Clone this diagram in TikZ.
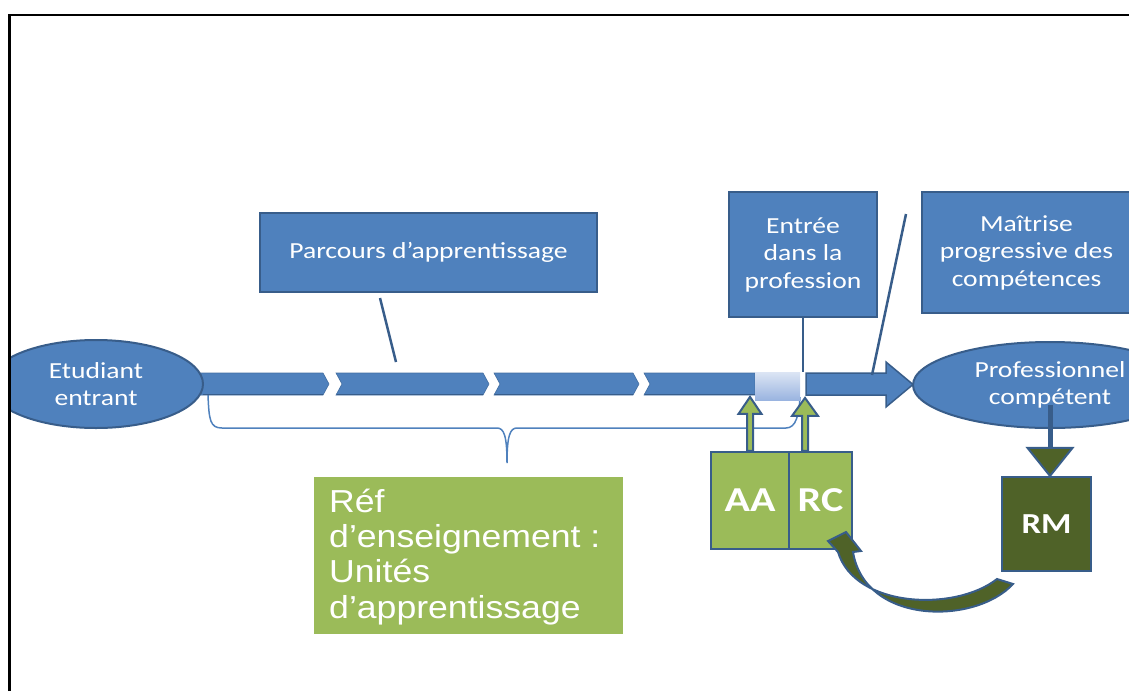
\documentclass[tikz,border=0pt]{standalone}
\usepackage{fontspec}
\setmainfont{Carlito}
\newfontfamily\calib[FakeStretch=1.2]{Carlito}
\newfontfamily\arialx[FakeStretch=1.12]{Liberation Sans}
\usetikzlibrary{shapes.geometric,calc}

\definecolor{ublue}{HTML}{4F81BD}
\definecolor{uedge}{HTML}{385D8A}
\definecolor{ugreen}{HTML}{9BBB59}
\definecolor{uolive}{HTML}{4F6228}
\definecolor{glowtop}{HTML}{DCE5F4}
\definecolor{glowbot}{HTML}{9AB4E0}

\newcommand\bluetext{\calib\fontsize{23}{27.5}\selectfont}

\tikzset{
  bluebox/.style={draw=uedge, fill=ublue, line width=2pt, text=white,
    font=\bluetext, align=center, inner sep=0pt, rectangle},
  blueoval/.style={ellipse, draw=uedge, fill=ublue, line width=2pt, text=white,
    font=\bluetext, align=center, inner sep=0pt},
  greenbox/.style={rectangle, draw=uedge, fill=ugreen, line width=2.2pt, text=white,
    font={\calib\bfseries\fontsize{35}{36}\selectfont}, inner sep=0pt},
  olivebox/.style={rectangle, draw=uedge, fill=uolive, line width=2.2pt, text=white,
    font={\calib\bfseries\fontsize{29}{32}\selectfont}, inner sep=0pt},
  callout/.style={draw=uedge, line width=2.5pt},
  bracket/.style={draw=ublue, line width=1.5pt},
  chevron/.style={fill=ublue, draw=ublue!85!black, line width=0.6pt},
  chevbase/.style={draw=uedge, line width=1.6pt},
  uparr/.style={fill=ugreen, draw=uedge, line width=2pt, line join=miter},
  downhead/.style={fill=uolive, draw=uedge, line width=2pt, line join=miter},
}

\begin{document}
\begin{tikzpicture}[x=1pt,y=-1pt]
\useasboundingbox (0,0) rectangle (1129,691);
\clip (8,0) rectangle (1129,691);

% bracket under the learning path
\coordinate (bl) at (208,395);
\coordinate (btip) at (507,463);
\coordinate (br) at (800,397);
\draw[bracket] (bl) .. controls (209,420) and (210,428) .. (222,428)
  -- (497,428) .. controls (504,428) and (507,436) .. (btip)
  .. controls (507,436) and (510,428) .. (517,428)
  -- (786,428) .. controls (796,428) and (799,415) .. (br);

% chevron segments of the learning path
\draw[chevron] (180,373) -- (323,373) -- (329,384) -- (323,395) -- (180,395) -- cycle;
\draw[chevron] (336,373) -- (483,373) -- (489,384) -- (483,395) -- (336,395) -- (342,384) -- cycle;
\draw[chevron] (494,373) -- (633,373) -- (639,384) -- (633,395) -- (494,395) -- (500,384) -- cycle;
\draw[chevron] (644,373) -- (755,373) -- (755,395) -- (644,395) -- (650,384) -- cycle;
\draw[chevbase] (203,394.5) -- (323,394.5) (337,394.5) -- (483,394.5)
  (495,394.5) -- (633,394.5) (645,394.5) -- (755,394.5);
\shade[top color=glowtop, bottom color=glowbot] (755,372) rectangle (800,400);
\draw[fill=ublue, draw=uedge, line width=1.5pt, line join=miter]
  (806,373) -- (886,373) -- (886,362) -- (913,384.5) -- (886,407) -- (886,395) -- (806,395) -- cycle;

% end points
\node[blueoval, minimum width=214pt, minimum height=88pt] (etud) at (96,384) {Etudiant\\entrant};
\node[blueoval, minimum width=274pt, minimum height=86pt] (prof) at (1050,385) {Professionnel\\compétent};

% labels above the path
\node[bluebox, minimum width=337pt, minimum height=79pt] (parc) at (428.5,252.5) {Parcours d’apprentissage};
\node[bluebox, minimum width=148pt, minimum height=125pt] (entree) at (803,254.5) {Entrée\\dans la\\profession};
\node[bluebox, minimum width=209pt, minimum height=121pt] (maitrise) at (1026.5,252.5) {Maîtrise\\progressive des\\compétences};

\coordinate (pa) at (380,298);
\coordinate (pb) at (396,362);
\draw[callout] (pa) -- (pb);
\coordinate (eb) at (803,372);
\draw[callout] (entree.south) -- (eb);
\coordinate (ma) at (906,214);
\coordinate (mb) at (872,375);
\draw[callout] (ma) -- (mb);

% teaching reference
\node[rectangle, fill=ugreen, minimum width=309pt, minimum height=157pt, inner sep=0pt] (ref) at (468.5,555.5) {};
\node[anchor=base west, inner sep=0pt, text=white, align=left,
  font={\arialx\fontsize{31.8}{35.2}\selectfont}] (reftxt) at (329,618)
  {Réf\\d’enseignement :\\Unités\\d’apprentissage};

% AA / RC blocks
\node[greenbox, minimum width=78pt, minimum height=97pt] (aa) at (750,500.5) {AA};
\node[greenbox, minimum width=63pt, minimum height=97pt] (rc) at (820.5,500.5) {RC};
\draw[uparr] ([xshift=-3pt]aa.north) -- ++(0,-37) -- ++(-8.5,0) -- ++(11.5,-17)
  -- ++(11.5,17) -- ++(-8.5,0) -- ++(0,37) -- cycle;
\draw[uparr] ([xshift=-18.5pt]rc.north) -- ++(0,-35) -- ++(-10,0) -- ++(13,-18)
  -- ++(13,18) -- ++(-10,0) -- ++(0,35) -- cycle;

% RM block and its arrows
\node[olivebox, minimum width=89pt, minimum height=94pt] (rm) at (1046.5,524) {RM};
\coordinate (dn) at (1050,405);
\coordinate (rmtip) at ([xshift=3.5pt]rm.north);
\draw[line width=5pt, draw=uedge] (dn) -- ($(rmtip)+(0,-28)$);
\draw[downhead] (rmtip) -- ++(-22.5,-28) -- ++(45,0) -- cycle;

\coordinate (cs) at (997,579);
\coordinate (ce) at (1013,584);
\draw[fill=uolive, draw=uedge, line width=2pt, line join=miter]
  (cs) .. controls (955,612) and (855,608) .. (838,552)
  -- (828,541) -- (846,532) -- (861,551) -- (853,552)
  .. controls (865,625) and (975,625) .. (ce) -- cycle;

% frame
\draw[black, line width=2.5pt] (9.5,691) -- (9.5,15) -- (1129,15);
\end{tikzpicture}
\end{document}
